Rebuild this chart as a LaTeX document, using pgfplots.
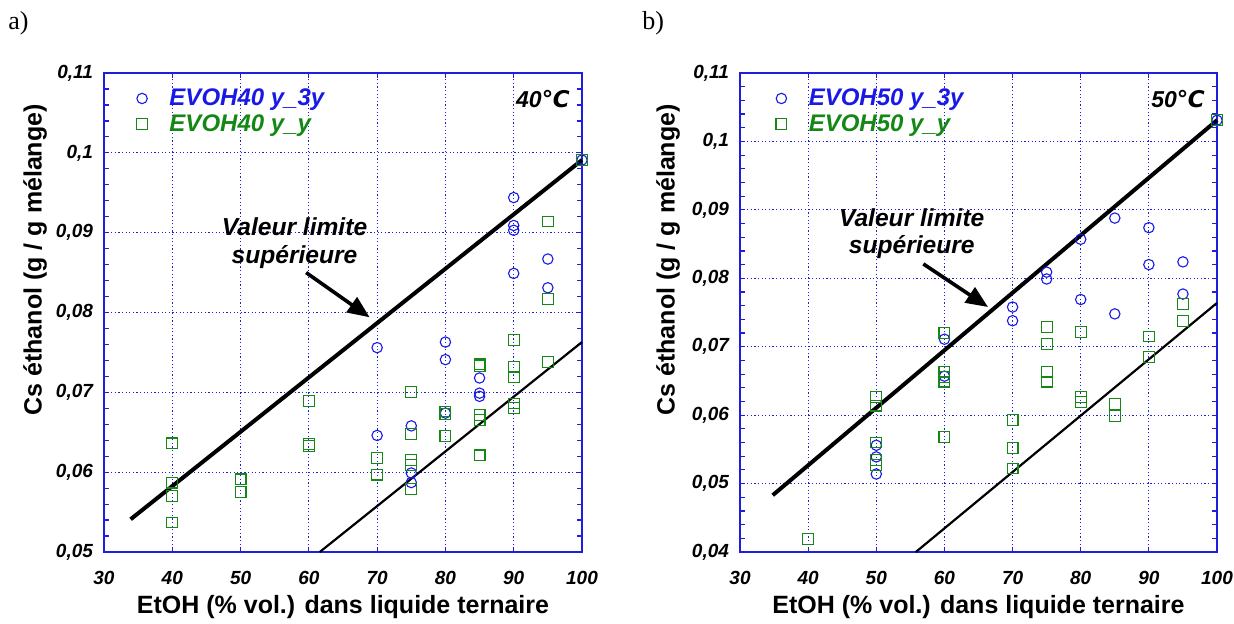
\documentclass[border=0pt]{standalone}
\usepackage{pgfplots}
\pgfplotsset{compat=1.18}
\usepackage{fontspec}
\setmainfont{Liberation Sans}
\newfontfamily\seriffont{Liberation Serif}
\newfontfamily\dejavu{DejaVu Sans}
\usetikzlibrary{arrows.meta}
\definecolor{mblue}{RGB}{25,25,230}
\definecolor{mgreen}{RGB}{20,135,20}
\definecolor{axblue}{RGB}{30,30,220}

\pgfplotsset{
  myaxis/.style={
    width=239pt, height=239.5pt, scale only axis,
    xmin=30, xmax=100,
    xtick={30,40,...,100},
    xticklabels={30,40,50,60,70,80,90,100},
    grid=major,
    major grid style={axblue, line width=0.6pt, dash pattern=on 0.6pt off 1.2pt},
    axis line style={axblue, line width=0.9pt},
    every tick/.style={axblue, line width=0.6pt},
    major tick length=2.5pt, minor tick length=2.5pt,
    minor y tick num=4,
    tick align=inside,
    clip=false,
    xticklabel style={font=\fontsize{9.5}{11}\selectfont\bfseries\itshape, yshift=-6pt},
    yticklabel style={font=\fontsize{9.5}{11}\selectfont\bfseries\itshape, xshift=-2pt},
    xlabel={EtOH (\% vol.) dans liquide ternaire},
    ylabel={Cs éthanol (g / g mélange)},
    xlabel style={font=\fontsize{12.5}{14}\selectfont\bfseries, at={(axis description cs:0.5,-0.115)}, anchor=center},
    legend style={draw=none, fill=none, anchor=north west,
      font=\fontsize{12}{13.5}\selectfont\bfseries\itshape, row sep=-1pt,
      /tikz/every odd column/.append style={column sep=9pt}},
    legend cell align=left,
  },
  circ/.style={only marks, mark=o, mark size=2.6pt, mblue, mark options={line width=0.55pt}},
  squ/.style={only marks, mark=square, mark size=2.7pt, mgreen, mark options={line width=0.55pt}},
}

\begin{document}
\begin{tikzpicture}
\useasboundingbox (0,0) rectangle (617pt,311.5pt);
\node[anchor=base west, inner sep=0pt, font=\seriffont\fontsize{13}{14}\selectfont] at (4pt,297pt) {a)};
\node[anchor=base west, inner sep=0pt, font=\seriffont\fontsize{13}{14}\selectfont] at (321pt,297pt) {b)};

% ---------- a) 40 C ----------
\begin{axis}[myaxis, at={(52pt,35.5pt)}, anchor=south west,
  ymin=0.05, ymax=0.11,
  ytick={0.05,0.06,...,0.11},
  yticklabels={{0,05},{0,06},{0,07},{0,08},{0,09},{0,1},{0,11}},
  ylabel style={font=\fontsize{12.5}{14}\selectfont\bfseries, at={(axis description cs:-0.144,0.61)}, anchor=center},
  legend style={at={(axis description cs:0.055,0.985)}},
]
\addplot[circ] coordinates {
 (70,0.0756) (70,0.0646)
 (75,0.0658) (75,0.0599) (75,0.0587)
 (80,0.0763) (80,0.0741) (80,0.0674)
 (85,0.0718) (85,0.0699) (85,0.0695)
 (90,0.0944) (90,0.0909) (90,0.0903) (90,0.0849)
 (95,0.0867) (95,0.0831)
 (100,0.0991)
};
\addlegendentry{\textcolor{mblue}{EVOH40 y\_3y}}
\addplot[squ] coordinates {
 (40,0.0636) (40,0.0587) (40,0.0570) (40,0.0537)
 (50,0.0591) (50,0.0575)
 (60,0.0689) (60,0.0635) (60,0.0633)
 (70,0.0618) (70,0.0597)
 (75,0.0700) (75,0.0648) (75,0.0615) (75,0.0609) (75,0.0579)
 (80,0.0676) (80,0.0673) (80,0.0645)
 (85,0.0735) (85,0.0733) (85,0.0672) (85,0.0665) (85,0.0621)
 (90,0.0766) (90,0.0732) (90,0.0719) (90,0.0686) (90,0.0680)
 (95,0.0914) (95,0.0817) (95,0.0738)
 (100,0.0991)
};
\addlegendentry{\textcolor{mgreen}{EVOH40 y\_y}}
\addplot[black, line width=2pt, forget plot] coordinates {(33.9,0.0541) (100,0.0991)};
\addplot[black, line width=1.1pt, forget plot] coordinates {(61.6,0.05) (100,0.0763)};
\draw[black, line width=1.8pt, -{Triangle[length=11pt,width=9pt]}] (axis cs:59.6,0.0850) -- (axis cs:68.9,0.0794);
\node[font=\fontsize{12.3}{13.7}\selectfont\bfseries\itshape, align=center] at (axis cs:57.9,0.0887) {Valeur limite\\supérieure};
\node[anchor=east, inner sep=0pt, font=\fontsize{11.5}{13}\selectfont\bfseries\itshape] at (axis description cs:0.975,0.946) {40{\dejavu\bfseries\itshape ℃}};
\end{axis}

% ---------- b) 50 C ----------
\begin{axis}[myaxis, at={(370pt,35.5pt)}, anchor=south west, width=238.5pt,
  ymin=0.04, ymax=0.11,
  ytick={0.04,0.05,...,0.11},
  yticklabels={{0,04},{0,05},{0,06},{0,07},{0,08},{0,09},{0,1},{0,11}},
  ylabel style={font=\fontsize{12.5}{14}\selectfont\bfseries, at={(axis description cs:-0.151,0.61)}, anchor=center},
  legend style={at={(axis description cs:0.062,0.985)}},
]
\addplot[circ] coordinates {
 (50,0.0556) (50,0.0539) (50,0.0514)
 (60,0.0711) (60,0.0657)
 (70,0.0758) (70,0.0738)
 (75,0.0809) (75,0.0799)
 (80,0.0857) (80,0.0769)
 (85,0.0888) (85,0.0748)
 (90,0.0874) (90,0.0820)
 (95,0.0824) (95,0.0777)
 (100,0.1031)
};
\addlegendentry{\textcolor{mblue}{EVOH50 y\_3y}}
\addplot[squ] coordinates {
 (40,0.0419)
 (50,0.0627) (50,0.0614) (50,0.0560) (50,0.0534) (50,0.0527)
 (60,0.0720) (60,0.0663) (60,0.0656) (60,0.0649) (60,0.0568)
 (70,0.0593) (70,0.0552) (70,0.0522)
 (75,0.0729) (75,0.0704) (75,0.0663) (75,0.0649)
 (80,0.0722) (80,0.0627) (80,0.0619)
 (85,0.0616) (85,0.0599)
 (90,0.0715) (90,0.0685)
 (95,0.0762) (95,0.0738)
 (100,0.1031)
};
\addlegendentry{\textcolor{mgreen}{EVOH50 y\_y}}
\addplot[black, line width=2pt, forget plot] coordinates {(34.8,0.0483) (100,0.1031)};
\addplot[black, line width=1.1pt, forget plot] coordinates {(55.8,0.04) (100,0.0764)};
\draw[black, line width=1.8pt, -{Triangle[length=11pt,width=9pt]}] (axis cs:56.9,0.0821) -- (axis cs:66.4,0.0758);
\node[font=\fontsize{12.3}{13.7}\selectfont\bfseries\itshape, align=center] at (axis cs:55.2,0.0865) {Valeur limite\\supérieure};
\node[anchor=east, inner sep=0pt, font=\fontsize{11.5}{13}\selectfont\bfseries\itshape] at (axis description cs:0.975,0.946) {50{\dejavu\bfseries\itshape ℃}};
\end{axis}
\end{tikzpicture}
\end{document}
